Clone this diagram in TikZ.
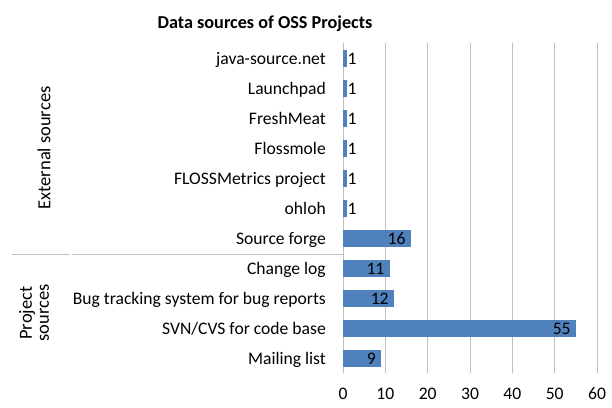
\documentclass[tikz,border=0pt]{standalone}
\usepackage{fontspec}
\setmainfont{Carlito}

\begin{document}
\begin{tikzpicture}[x=1pt,y=-1pt,
  catlabel/.style={anchor=base east,inner sep=0pt,font=\fontsize{17.6}{20}\selectfont},
  vallabel/.style={inner sep=0pt,font=\fontsize{17.6}{20}\selectfont},
  ticklabel/.style={anchor=base,inner sep=0pt,font=\fontsize{17.6}{20}\selectfont},
  grouplabel/.style={rotate=90,align=center,inner sep=0pt,font=\fontsize{18.5}{17}\selectfont},
  gridline/.style={line width=1pt,color=C0C0C0},
  bar/.style={fill=4F81BD}]
\definecolor{FFFFFF}{rgb}{1.00000,1.00000,1.00000}
\definecolor{000000}{rgb}{0.00000,0.00000,0.00000}
\definecolor{C0C0C0}{rgb}{0.75294,0.75294,0.75294}
\definecolor{4F81BD}{rgb}{0.30980,0.50588,0.74118}
\useasboundingbox (0,0) rectangle (612,407);
\fill[color=FFFFFF] (0,0) rectangle (612,407);
% title
\node[anchor=base,inner sep=0pt,font=\fontsize{18.2}{20}\selectfont\bfseries] (title) at (265,28) {Data sources of OSS Projects};
% grid
\draw[gridline] (343,43) -- (343,373);
\draw[gridline] (385.33,43) -- (385.33,373);
\draw[gridline] (427.67,43) -- (427.67,373);
\draw[gridline] (470,43) -- (470,373);
\draw[gridline] (512.33,43) -- (512.33,373);
\draw[gridline] (554.67,43) -- (554.67,373);
\draw[gridline] (597,43) -- (597,373);
\draw[gridline] (12,254) -- (70,254);
\draw[gridline] (72,254) -- (343,254);
% bars
\fill[bar] (343,49.5) rectangle (347.23,66.5);
\fill[bar] (343,79.5) rectangle (347.23,96.5);
\fill[bar] (343,109.5) rectangle (347.23,126.5);
\fill[bar] (343,139.5) rectangle (347.23,156.5);
\fill[bar] (343,169.5) rectangle (347.23,186.5);
\fill[bar] (343,199.5) rectangle (347.23,216.5);
\fill[bar] (343,229.5) rectangle (410.73,246.5);
\fill[bar] (343,259.5) rectangle (389.57,276.5);
\fill[bar] (343,289.5) rectangle (393.80,306.5);
\fill[bar] (343,319.5) rectangle (575.83,336.5);
\fill[bar] (343,349.5) rectangle (381.10,366.5);
% categories
\node[catlabel] (java) at (326,64) {java-source.net};
\node[catlabel] (launchpad) at (326,94) {Launchpad};
\node[catlabel] (freshmeat) at (326,124) {FreshMeat};
\node[catlabel] (flossmole) at (326,154) {Flossmole};
\node[catlabel] (flossmetrics) at (326,184) {FLOSSMetrics project};
\node[catlabel] (ohloh) at (326,214) {ohloh};
\node[catlabel] (sourceforge) at (326,244) {Source forge};
\node[catlabel] (changelog) at (326,274) {Change log};
\node[catlabel] (bugtracking) at (326,304) {Bug tracking system for bug reports};
\node[catlabel] (svncvs) at (326,334) {SVN/CVS for code base};
\node[catlabel] (mailinglist) at (326,364) {Mailing list};
% groups
\node[grouplabel] (external) at (44,148) {External sources};
\node[grouplabel] (project) at (34,313) {Project\\sources};
% values
\node[vallabel,anchor=base west] (vjava) at (347.5,64) {1};
\node[vallabel,anchor=base west] (vlaunchpad) at (347.5,94) {1};
\node[vallabel,anchor=base west] (vfreshmeat) at (347.5,124) {1};
\node[vallabel,anchor=base west] (vflossmole) at (347.5,154) {1};
\node[vallabel,anchor=base west] (vflossmetrics) at (347.5,184) {1};
\node[vallabel,anchor=base west] (vohloh) at (347.5,214) {1};
\node[vallabel,anchor=base east] (vsourceforge) at (405.7,244) {16};
\node[vallabel,anchor=base east] (vchangelog) at (384.6,274) {11};
\node[vallabel,anchor=base east] (vbugtracking) at (388.8,304) {12};
\node[vallabel,anchor=base east] (vsvncvs) at (570.8,334) {55};
\node[vallabel,anchor=base east] (vmailinglist) at (376.1,364) {9};
% axis
\node[ticklabel] (t0) at (343,399) {0};
\node[ticklabel] (t10) at (385.33,399) {10};
\node[ticklabel] (t20) at (427.67,399) {20};
\node[ticklabel] (t30) at (470,399) {30};
\node[ticklabel] (t40) at (512.33,399) {40};
\node[ticklabel] (t50) at (554.67,399) {50};
\node[ticklabel] (t60) at (597,399) {60};
\end{tikzpicture}
\end{document}
